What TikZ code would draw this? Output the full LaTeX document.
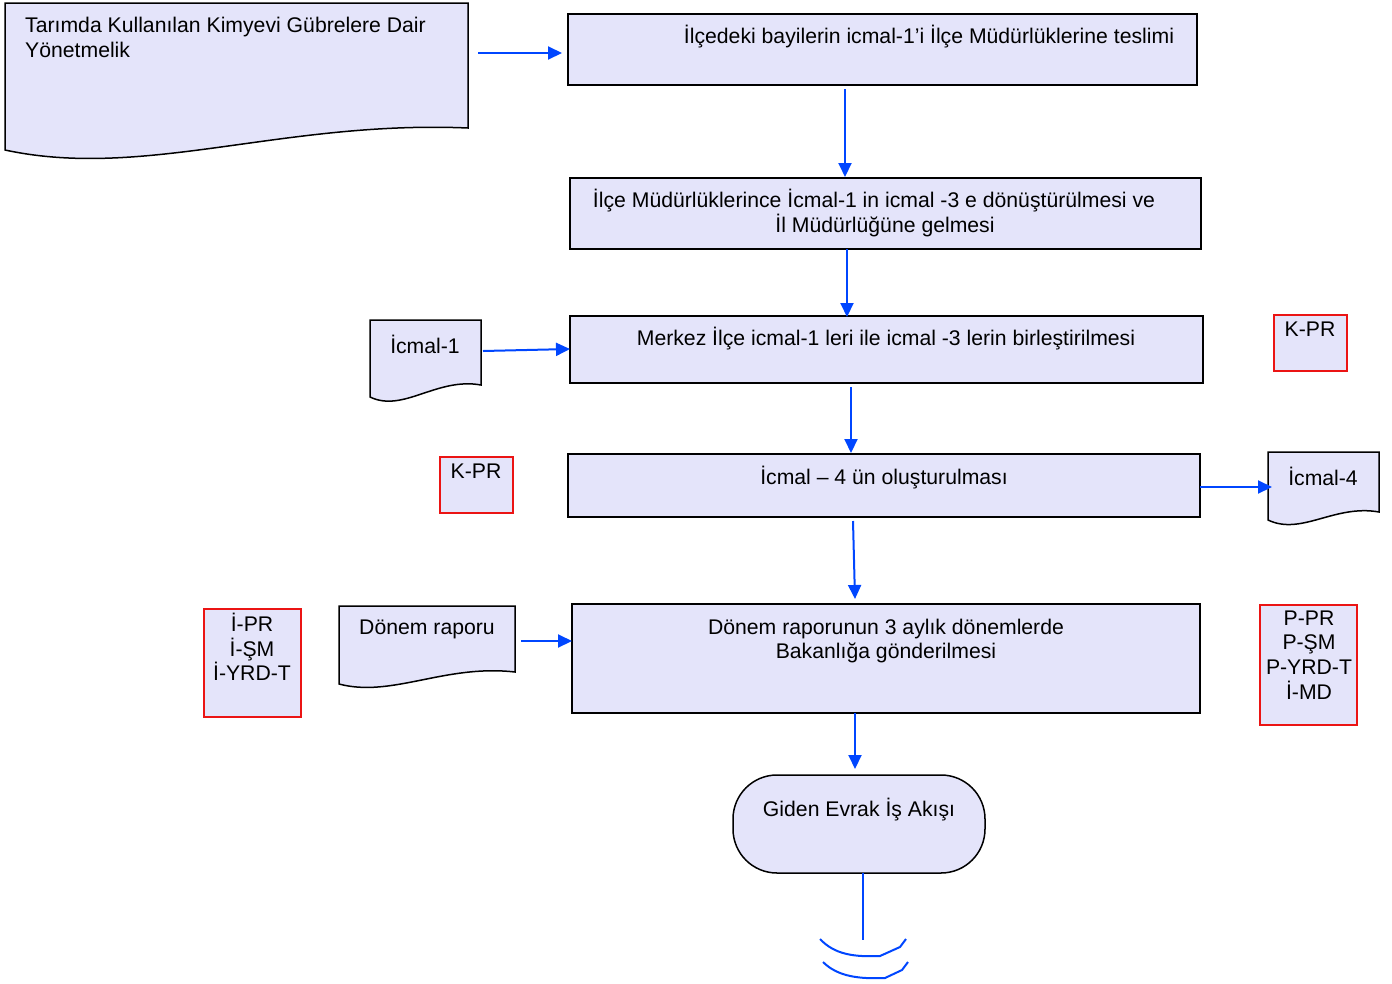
\documentclass[tikz,border=0pt]{standalone}
\usepackage{fontspec}
\setmainfont{Liberation Sans}
\usetikzlibrary{arrows.meta}
\definecolor{boxfill}{RGB}{228,228,250}
\definecolor{arrowblue}{RGB}{0,70,255}
\definecolor{tagred}{RGB}{235,20,20}
\newcommand{\docpath}[6]{%
  \filldraw[docline] (#1,#2) -- (#3,#2) -- (#3,#5)
    .. controls ({#1+0.6*(#3-#1)},{#5-8}) and ({#1+0.3*(#3-#1)},{#4+#6}) .. (#1,#4) -- cycle;}
\begin{document}
\begin{tikzpicture}[x=1pt,y=-1pt,
  every node/.style={font=\fontsize{21.2}{24.7}\selectfont, inner sep=0pt},
  procbox/.style={draw=black, line width=1.5pt, fill=boxfill},
  docline/.style={draw=black, line width=1.5pt, fill=boxfill},
  tagbox/.style={draw=tagred, line width=1.5pt, fill=boxfill},
  flow/.style={draw=arrowblue, line width=2pt, -{Triangle[length=14pt,width=13pt]}},
  txt/.style={align=center}]
\useasboundingbox (0,0) rectangle (1392,983);

% documents
\docpath{5}{3}{468}{150}{128}{30}
\node[anchor=north west, align=left] (tarim) at (25,17) {Tarımda Kullanılan Kimyevi Gübrelere Dair\\Yönetmelik};
\coordinate (tarimout) at (478,53);

\docpath{370}{320}{481}{397}{385}{16}
\node[txt] (icmal1) at (425,344) {İcmal-1};
\coordinate (icmal1out) at (483,351);

\docpath{1268}{452}{1379}{520}{512}{16}
\node[txt] (icmal4) at (1323,476) {İcmal-4};
\coordinate (icmal4in) at (1272,487);

\docpath{339}{606}{515}{684}{672}{14}
\node[txt] (donemr) at (427,629) {Dönem raporu};
\coordinate (donemout) at (521,641);

% process boxes
\draw[procbox] (568,14) rectangle (1197,85);
\node[txt] (b1) at (929,37) {İlçedeki bayilerin icmal-1’i İlçe Müdürlüklerine teslimi};
\coordinate (b1w) at (562,53);
\coordinate (b1s) at (845,89);

\draw[procbox] (570,178) rectangle (1201,249);
\node[txt] (b2) at (874,213) {İlçe Müdürlüklerince İcmal-1 in icmal -3 e dönüştürülmesi ve\\\hspace*{22pt}İl Müdürlüğüne gelmesi};
\coordinate (b2n) at (845,177);
\coordinate (b2s) at (847,249);

\draw[procbox] (570,316) rectangle (1203,383);
\node[txt] (b3) at (886,339) {Merkez İlçe icmal-1 leri ile icmal -3 lerin birleştirilmesi};
\coordinate (b3n) at (847,317);
\coordinate (b3w) at (570,349);
\coordinate (b3s) at (851,387);

\draw[procbox] (568,454) rectangle (1200,517);
\node[txt] (b4) at (884,478) {İcmal – 4 ün oluşturulması};
\coordinate (b4n) at (851,453);
\coordinate (b4e) at (1200,487);
\coordinate (b4s) at (853,521);

\draw[procbox] (572,604) rectangle (1200,713);
\node[txt] (b5) at (886,641) {Dönem raporunun 3 aylık dönemlerde\\Bakanlığa gönderilmesi};
\coordinate (b5n) at (855,599);
\coordinate (b5w) at (572,641);
\coordinate (b5s) at (855,713);

% terminal
\draw[procbox, rounded corners=44pt] (733,775) rectangle (985,873);
\node[txt] (term) at (859,810) {Giden Evrak İş Akışı};
\coordinate (termn) at (855,769);
\coordinate (terms) at (863,873);
\coordinate (termend) at (863,940);

% tags
\draw[tagbox] (1274,315) rectangle (1347,371);
\node[txt] (kpr1) at (1310,329) {K-PR};
\draw[tagbox] (440,457) rectangle (513,513);
\node[txt] (kpr2) at (476,471) {K-PR};
\draw[tagbox] (204,609) rectangle (301,717);
\node[txt] (tagl) at (252,647) {İ-PR\\İ-ŞM\\İ-YRD-T};
\draw[tagbox] (1260,605) rectangle (1357,725);
\node[txt] (tagr) at (1309,655) {P-PR\\P-ŞM\\P-YRD-T\\İ-MD};

% connectors
\draw[flow] (tarimout) -- (b1w);
\draw[flow] (b1s) -- (b2n);
\draw[flow] (b2s) -- (b3n);
\draw[flow] (icmal1out) -- (b3w);
\draw[flow] (b3s) -- (b4n);
\draw[flow] (b4e) -- (icmal4in);
\draw[flow] (b4s) -- (b5n);
\draw[flow] (donemout) -- (b5w);
\draw[flow] (b5s) -- (termn);
\draw[draw=arrowblue, line width=2pt] (terms) -- (termend);

% off-page marks
\draw[draw=arrowblue, line width=2pt] (820,939) .. controls (835,955) and (855,957) .. (880,956) -- (900,947) -- (906,939);
\draw[draw=arrowblue, line width=2pt] (823,962) .. controls (838,977) and (860,979) .. (885,978) -- (902,970) -- (908,962);
\end{tikzpicture}
\end{document}
